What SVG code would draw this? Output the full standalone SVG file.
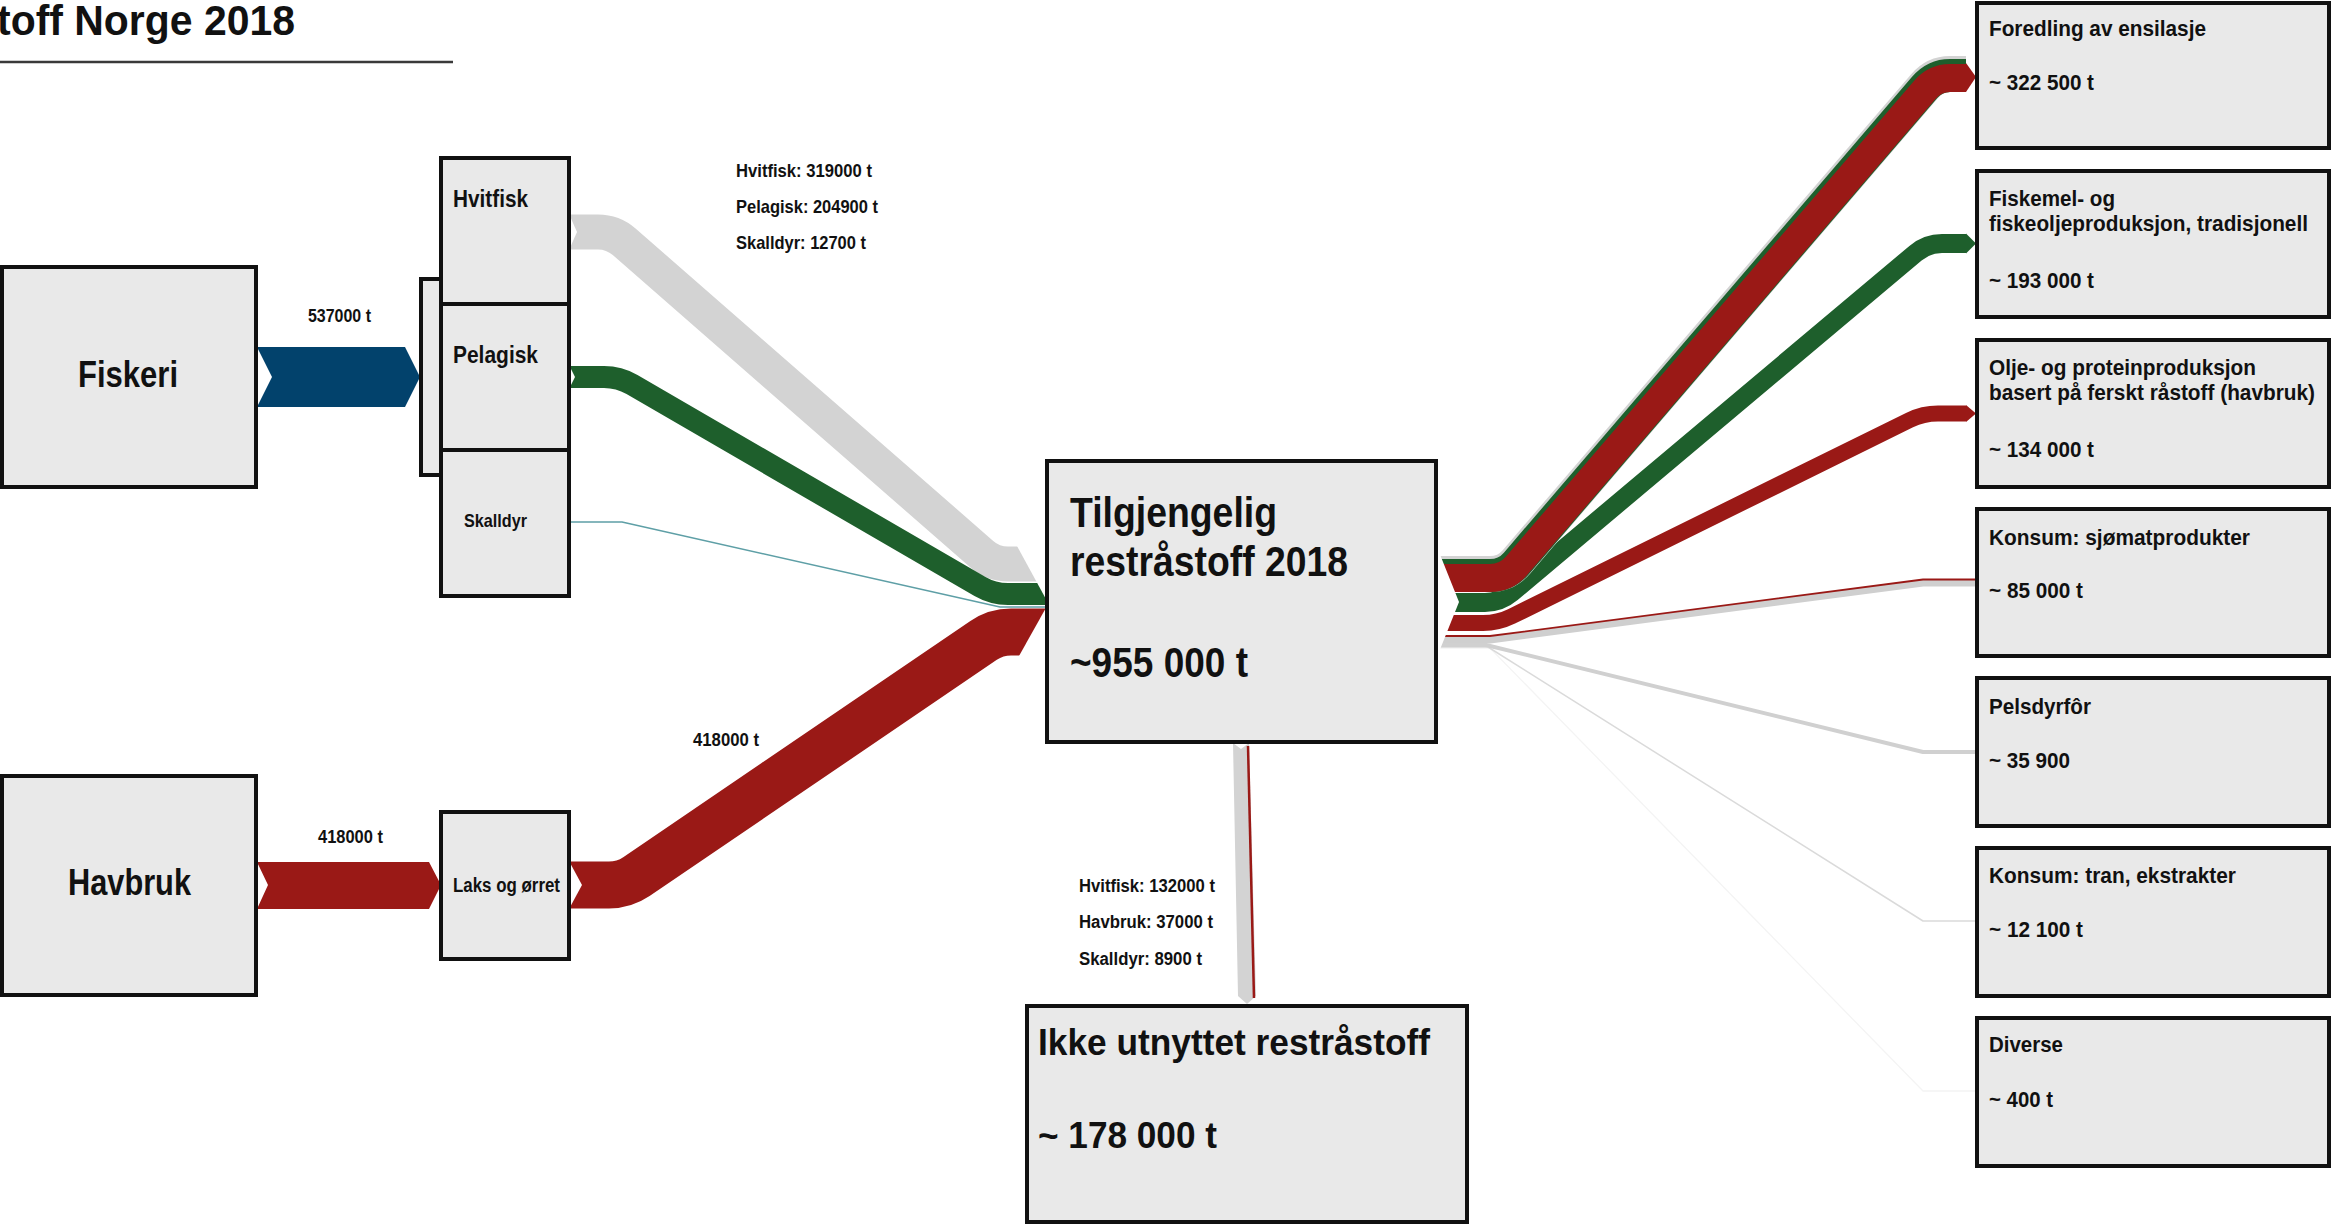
<svg xmlns="http://www.w3.org/2000/svg" width="2331" height="1225" viewBox="0 0 2331 1225">
<style>
.box{fill:#e9e9e9;stroke:#111;stroke-width:4}
.t{font-family:"Liberation Sans",Arial,sans-serif;font-weight:bold;fill:#111}
.f{fill:none;stroke-linecap:butt;stroke-linejoin:round}
.cut{fill:#fff}
</style>
<rect width="2331" height="1225" fill="#fff"/>
<g id="title">
<text class="t" x="-3" y="35" font-size="42" textLength="298" lengthAdjust="spacingAndGlyphs">toff Norge 2018</text>
<line x1="0" y1="62" x2="453" y2="62" stroke="#3a3a3a" stroke-width="2.5"/>
</g>
<g id="connectors">
<polygon id="c-fiskeri" fill="#02426c" points="257,347 405,347 420,377 405,407 257,407 272,377"/>
<polygon id="c-havbruk" fill="#9a1916" points="257,862 429,862 441,885 429,909 257,909 268,885"/>
<path class="f" stroke="#d3d3d3" stroke-width="35" d="M570,232 H598 Q613,232 624.3,241.9 L981.7,554.1 Q993,564 1008,564 H1046"/>
<path class="f" stroke="#1e5f2c" stroke-width="22" d="M570,377 H604 Q619,377 632,384.5 L980,586.5 Q993,594 1008,594 H1046"/>
<path class="f" stroke="#5e9fa6" stroke-width="1.5" d="M570,522 H622 L1000,607 H1046"/>
<path class="f" stroke="#9a1916" stroke-width="47" d="M570,885 H609 Q624,885 636.4,876.6 L983.6,640.4 Q996,632 1011,632 H1046"/>
<polygon class="cut" points="1017,546 1017,538 1047,538 1047,601"/>
<polygon class="cut" points="1019,656 1019,666 1047,666 1047,606"/>
<polygon class="cut" points="569,214 577,232 569,250"/>
<polygon class="cut" points="569,365 575,377 569,389"/>
<polygon class="cut" points="569,861 582,885 569,909"/>
<polygon fill="#d3d3d3" points="1233,743 1241,749 1249,743 1256,996 1247,1004 1238,996"/>
<line x1="1248" y1="746" x2="1254" y2="998" stroke="#9a1916" stroke-width="2.5"/>
<path class="f" stroke="#f4f4f4" stroke-width="1.3" d="M1440,648 H1490 L1923,1091 H1976"/>
<path class="f" stroke="#dadada" stroke-width="1.5" d="M1440,647 H1488 L1923,921 H1976"/>
<path class="f" stroke="#d0d0d0" stroke-width="4" d="M1440,645 H1486 L1923,752 H1976"/>
<path class="f" stroke="#cfcfcf" stroke-width="7" d="M1440,640 H1490 L1923,583 H1976"/>
<path class="f" stroke="#9a1916" stroke-width="1.8" d="M1440,636 H1490 L1923,579.5 H1976"/>
<path class="f" stroke="#9a1916" stroke-width="16" d="M1440,623 H1483 Q1498,623 1511.5,616.4 L1909.5,420.1 Q1923,413.5 1938,413.5 H1966"/>
<polygon fill="#9a1916" points="1966,405 1976,413.5 1966,422"/>
<path class="f" stroke="#1e5f2c" stroke-width="19" d="M1440,602.5 H1485 Q1500,602.5 1511.5,592.8 L1915.5,253.2 Q1927,243.5 1942,243.5 H1966"/>
<polygon fill="#1e5f2c" points="1966,233.5 1976,243.5 1966,253.5"/>
<path class="f" stroke="#d3d3d3" stroke-width="36" d="M1440,574 H1490 Q1506,574 1516.4,561.9 L1924.6,86.1 Q1935,74 1950,74 H1966"/>
<path class="f" stroke="#1e5f2c" stroke-width="33" transform="translate(0,1.5)" d="M1440,574 H1490 Q1506,574 1516.4,561.9 L1924.6,86.1 Q1935,74 1950,74 H1966"/>
<path class="f" stroke="#9a1916" stroke-width="28" transform="translate(0,4)" d="M1440,574 H1490 Q1506,574 1516.4,561.9 L1924.6,86.1 Q1935,74 1950,74 H1966"/>
<polygon fill="#9a1916" points="1966,63 1976,77 1966,92"/>
<polygon class="cut" points="1439,552 1459,602 1439,652"/>
</g>
<g id="n-fiskeri">
<rect class="box" x="2" y="267" width="254" height="220"/>
<text class="t" x="78" y="387" font-size="36" textLength="100" lengthAdjust="spacingAndGlyphs">Fiskeri</text>
<text class="t" x="308" y="322" font-size="17.5" textLength="63" lengthAdjust="spacingAndGlyphs">537000 t</text>
</g>
<g id="n-havbruk">
<rect class="box" x="2" y="776" width="254" height="219"/>
<text class="t" x="68" y="895" font-size="37" textLength="123" lengthAdjust="spacingAndGlyphs">Havbruk</text>
<text class="t" x="318" y="843" font-size="17.5" textLength="65" lengthAdjust="spacingAndGlyphs">418000 t</text>
</g>
<g id="n-bar">
<rect class="box" x="421" y="279" width="20" height="196" stroke-width="3"/>
</g>
<g id="n-hvitfisk">
<rect class="box" x="441" y="158" width="128" height="146"/>
<text class="t" x="453" y="207" font-size="24" textLength="75" lengthAdjust="spacingAndGlyphs">Hvitfisk</text>
</g>
<g id="n-pelagisk">
<rect class="box" x="441" y="304" width="128" height="146"/>
<text class="t" x="453" y="363" font-size="24" textLength="85" lengthAdjust="spacingAndGlyphs">Pelagisk</text>
</g>
<g id="n-skalldyr">
<rect class="box" x="441" y="450" width="128" height="146"/>
<text class="t" x="464" y="527" font-size="18.5" textLength="63" lengthAdjust="spacingAndGlyphs">Skalldyr</text>
</g>
<g id="n-laks">
<rect class="box" x="441" y="812" width="128" height="147"/>
<text class="t" x="453" y="892" font-size="20" textLength="107" lengthAdjust="spacingAndGlyphs">Laks og ørret</text>
</g>
<g id="labels">
<text class="t" x="736" y="177" font-size="19" textLength="136" lengthAdjust="spacingAndGlyphs">Hvitfisk: 319000 t</text>
<text class="t" x="736" y="213" font-size="19" textLength="142" lengthAdjust="spacingAndGlyphs">Pelagisk: 204900 t</text>
<text class="t" x="736" y="249" font-size="19" textLength="130" lengthAdjust="spacingAndGlyphs">Skalldyr: 12700 t</text>
<text class="t" x="693" y="746" font-size="19" textLength="66" lengthAdjust="spacingAndGlyphs">418000 t</text>
<text class="t" x="1079" y="892" font-size="18" textLength="136" lengthAdjust="spacingAndGlyphs">Hvitfisk: 132000 t</text>
<text class="t" x="1079" y="928" font-size="18" textLength="134" lengthAdjust="spacingAndGlyphs">Havbruk: 37000 t</text>
<text class="t" x="1079" y="965" font-size="18" textLength="123" lengthAdjust="spacingAndGlyphs">Skalldyr: 8900 t</text>
</g>
<g id="n-tilgjengelig">
<rect class="box" x="1047" y="461" width="389" height="281"/>
<text class="t" x="1070" y="527" font-size="43" textLength="207" lengthAdjust="spacingAndGlyphs">Tilgjengelig</text>
<text class="t" x="1070" y="576" font-size="43" textLength="278" lengthAdjust="spacingAndGlyphs">restråstoff 2018</text>
<text class="t" x="1070" y="677" font-size="43" textLength="178" lengthAdjust="spacingAndGlyphs">~955 000 t</text>
</g>
<g id="n-ikke">
<rect class="box" x="1027" y="1006" width="440" height="216"/>
<text class="t" x="1038" y="1055" font-size="37" textLength="392" lengthAdjust="spacingAndGlyphs">Ikke utnyttet restråstoff</text>
<text class="t" x="1038" y="1148" font-size="37" textLength="179" lengthAdjust="spacingAndGlyphs">~ 178 000 t</text>
</g>
<g id="n-foredling">
<rect class="box" x="1977" y="3" width="352" height="145"/>
<text class="t" x="1989" y="36" font-size="22" textLength="217" lengthAdjust="spacingAndGlyphs">Foredling av ensilasje</text>
<text class="t" x="1989" y="90" font-size="22" textLength="105" lengthAdjust="spacingAndGlyphs">~ 322 500 t</text>
</g>
<g id="n-fiskemel">
<rect class="box" x="1977" y="171" width="352" height="146"/>
<text class="t" x="1989" y="206" font-size="22" textLength="126" lengthAdjust="spacingAndGlyphs">Fiskemel- og</text>
<text class="t" x="1989" y="231" font-size="22" textLength="319" lengthAdjust="spacingAndGlyphs">fiskeoljeproduksjon, tradisjonell</text>
<text class="t" x="1989" y="288" font-size="22" textLength="105" lengthAdjust="spacingAndGlyphs">~ 193 000 t</text>
</g>
<g id="n-olje">
<rect class="box" x="1977" y="340" width="352" height="147"/>
<text class="t" x="1989" y="375" font-size="22" textLength="267" lengthAdjust="spacingAndGlyphs">Olje- og proteinproduksjon</text>
<text class="t" x="1989" y="400" font-size="22" textLength="326" lengthAdjust="spacingAndGlyphs">basert på ferskt råstoff (havbruk)</text>
<text class="t" x="1989" y="457" font-size="22" textLength="105" lengthAdjust="spacingAndGlyphs">~ 134 000 t</text>
</g>
<g id="n-konsum-sjomat">
<rect class="box" x="1977" y="509" width="352" height="147"/>
<text class="t" x="1989" y="545" font-size="22" textLength="261" lengthAdjust="spacingAndGlyphs">Konsum: sjømatprodukter</text>
<text class="t" x="1989" y="598" font-size="22" textLength="94" lengthAdjust="spacingAndGlyphs">~ 85 000 t</text>
</g>
<g id="n-pelsdyrfor">
<rect class="box" x="1977" y="678" width="352" height="148"/>
<text class="t" x="1989" y="714" font-size="22" textLength="102" lengthAdjust="spacingAndGlyphs">Pelsdyrfôr</text>
<text class="t" x="1989" y="768" font-size="22" textLength="81" lengthAdjust="spacingAndGlyphs">~ 35 900</text>
</g>
<g id="n-konsum-tran">
<rect class="box" x="1977" y="848" width="352" height="148"/>
<text class="t" x="1989" y="883" font-size="22" textLength="247" lengthAdjust="spacingAndGlyphs">Konsum: tran, ekstrakter</text>
<text class="t" x="1989" y="937" font-size="22" textLength="94" lengthAdjust="spacingAndGlyphs">~ 12 100 t</text>
</g>
<g id="n-diverse">
<rect class="box" x="1977" y="1018" width="352" height="148"/>
<text class="t" x="1989" y="1052" font-size="22" textLength="74" lengthAdjust="spacingAndGlyphs">Diverse</text>
<text class="t" x="1989" y="1107" font-size="22" textLength="64" lengthAdjust="spacingAndGlyphs">~ 400 t</text>
</g>
</svg>
